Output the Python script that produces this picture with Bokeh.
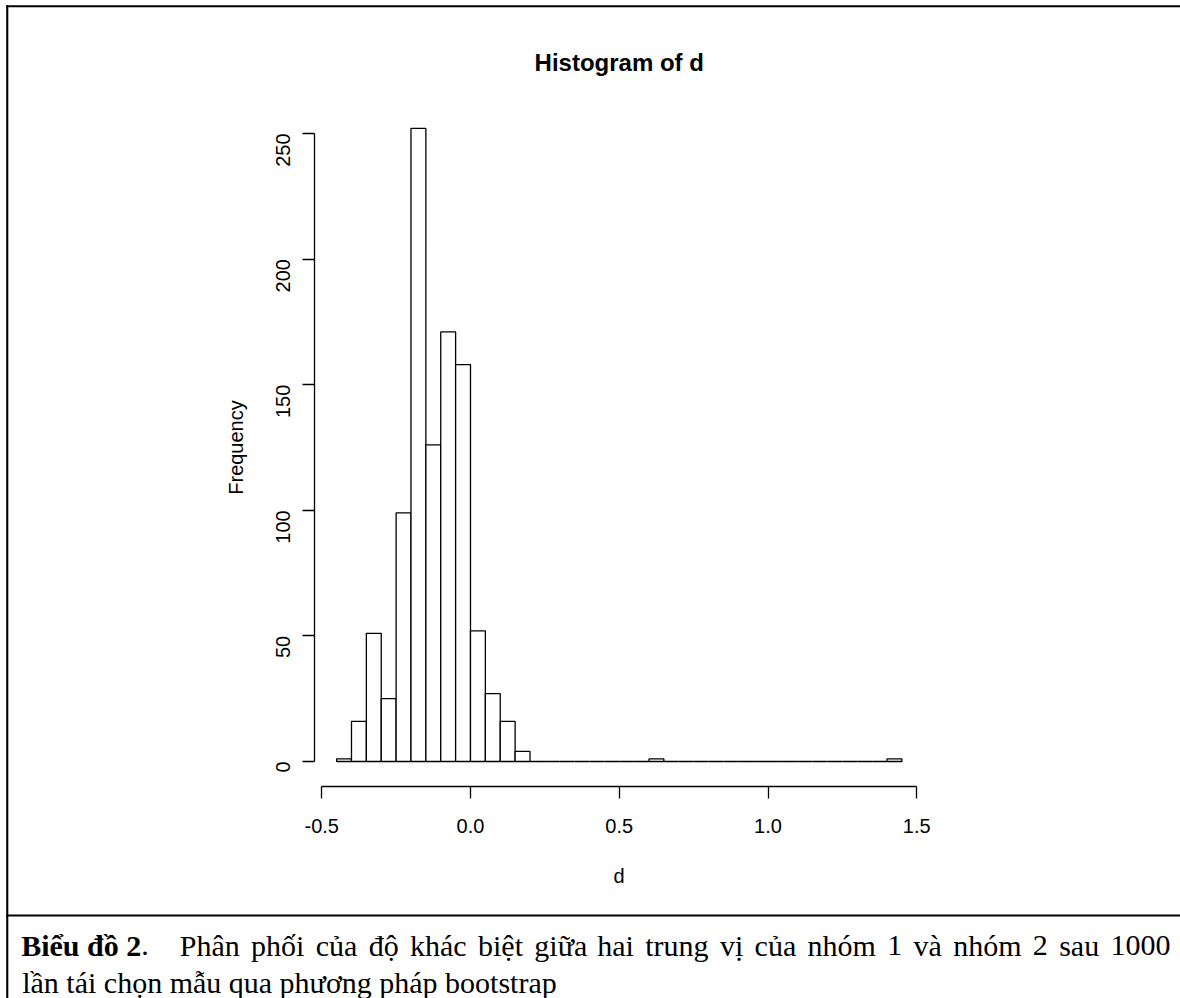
import math
import unicodedata
from bokeh.plotting import figure
from bokeh.models import Range1d, FixedTicker, Label, BoxAnnotation
from bokeh.embed import file_html
from bokeh.resources import INLINE

# ---- data ----
bin_edges = [-0.45, -0.40, -0.35, -0.30, -0.25, -0.20, -0.15, -0.10, -0.05, 0.00,
             0.05, 0.10, 0.15, 0.20, 0.25, 0.30, 0.35, 0.40, 0.45, 0.50,
             0.55, 0.60, 0.65, 0.70, 0.75, 0.80, 0.85, 0.90, 0.95, 1.00,
             1.05, 1.10, 1.15, 1.20, 1.25, 1.30, 1.35, 1.40, 1.45]
counts = [1, 16, 51, 25, 99, 252, 126, 171, 158, 52, 27, 16, 4,
          0, 0, 0, 0, 0, 0, 0, 0,
          1,
          0, 0, 0, 0, 0, 0, 0, 0, 0, 0, 0, 0, 0, 0, 0,
          1]
x_ticks = [-0.5, 0.0, 0.5, 1.0, 1.5]
x_tick_labels = ["-0.5", "0.0", "0.5", "1.0", "1.5"]
y_ticks = [0, 50, 100, 150, 200, 250]
y_tick_labels = ["0", "50", "100", "150", "200", "250"]

title_text = "Histogram of d"
x_label = "d"
y_label = "Frequency"
caption_bold = "Biểu đồ 2"
caption_period = "."
caption_line1 = "Phân phối của độ khác biệt giữa hai trung vị của nhóm 1 và nhóm 2 sau 1000"
caption_line2 = "lần tái chọn mẫu qua phương pháp bootstrap"

# ---- layout (pixels) ----
W, H = 1180, 998
PL, PR, PT, PB = 313.5, 924.0, 102.6, 786.3   # R plot region inside the canvas

# R-style 4% range extension
xspan = bin_edges[-1] - bin_edges[0]
ymax = max(counts)
xlo, xhi = bin_edges[0] - 0.04 * xspan, bin_edges[-1] + 0.04 * xspan
ylo, yhi = -0.04 * ymax, 1.04 * ymax
sx = (xhi - xlo) / (PR - PL)
sy = (yhi - ylo) / (PB - PT)
x_range = Range1d(xlo - PL * sx, xhi + (W - PR) * sx)
y_range = Range1d(ylo - (H - PB) * sy, yhi + PT * sy)

SANS = "Liberation Sans"
SERIF = "Liberation Serif"

p = figure(width=W, height=H, min_border=0,
           min_border_left=0, min_border_right=0, min_border_top=0, min_border_bottom=0,
           x_range=x_range, y_range=y_range,
           output_backend="svg", toolbar_location=None)

p.quad(left=bin_edges[:-1], right=bin_edges[1:], bottom=0, top=counts,
       fill_color="white", line_color="black", line_width=1.3)

p.grid.visible = False
p.outline_line_color = None
p.background_fill_color = "white"
p.border_fill_color = "white"

# x axis (drawn at the bottom edge of R's plot region)
xa = p.xaxis[0]
xa.fixed_location = ylo
xa.ticker = FixedTicker(ticks=x_ticks)
xa.major_label_overrides = {t: l for t, l in zip(x_ticks, x_tick_labels)}
xa.bounds = (x_ticks[0], x_ticks[-1])
xa.minor_tick_line_color = None
xa.major_tick_in = 0
xa.major_tick_out = 12
xa.axis_line_width = 1.3
xa.major_tick_line_width = 1.3
xa.major_label_text_font = SANS
xa.major_label_text_font_size = "20px"
xa.major_label_text_color = "black"
xa.major_label_standoff = 20
xa.axis_label = x_label
xa.axis_label_text_font = SANS
xa.axis_label_text_font_size = "20px"
xa.axis_label_text_font_style = "normal"
xa.axis_label_text_color = "black"
xa.axis_label_standoff = 29

# y axis (drawn at the left edge of R's plot region)
ya = p.yaxis[0]
ya.fixed_location = xlo
ya.ticker = FixedTicker(ticks=y_ticks)
ya.major_label_overrides = {t: l for t, l in zip(y_ticks, y_tick_labels)}
ya.bounds = (y_ticks[0], y_ticks[-1])
ya.minor_tick_line_color = None
ya.major_tick_in = 0
ya.major_tick_out = 12
ya.axis_line_width = 1.3
ya.major_tick_line_width = 1.3
ya.major_label_orientation = math.pi / 2
ya.major_label_text_font = SANS
ya.major_label_text_font_size = "20px"
ya.major_label_text_color = "black"
ya.major_label_standoff = 19
ya.axis_label = y_label
ya.axis_label_text_font = SANS
ya.axis_label_text_font_size = "20px"
ya.axis_label_text_font_style = "normal"
ya.axis_label_text_color = "black"
ya.axis_label_standoff = 20

# title, centred over the plot region
p.add_layout(Label(x=(xlo + xhi) / 2, y=62, x_units="data", y_units="canvas",
                   text=title_text, text_font=SANS, text_font_size="24px",
                   text_font_style="bold", text_color="black",
                   text_align="center", text_baseline="alphabetic"))

# document frame lines: left edge, top edge, separator above the caption
def rule(left, right, top, bottom):
    p.add_layout(BoxAnnotation(left=left, right=right, top=top, bottom=bottom,
                               left_units="canvas", right_units="canvas",
                               top_units="canvas", bottom_units="canvas",
                               fill_color="black", fill_alpha=1.0,
                               line_color=None))

rule(5.7, 7.8, 4.7, H + 20)
rule(5.7, W + 20, 4.7, 6.8)
rule(5.7, W + 20, 913.9, 916.0)

# caption (first line is justified, as in the source document)
CAP_SIZE = 30
CAP_X0, CAP_X_END = 20.7, 1170.0
CAP_Y1, CAP_Y2 = 945, 982
BOLD_W = {"B": 667, "i": 278, "e": 444, "u": 556, " ": 250, "đ": 556, "o": 500, "2": 500}
REG_W = {"a": 444, "b": 500, "c": 444, "d": 500, "e": 444, "g": 500, "h": 500,
         "i": 278, "k": 500, "m": 778, "n": 500, "o": 500, "p": 500, "r": 333,
         "s": 389, "t": 278, "u": 500, "v": 500, "y": 500, "P": 556, "đ": 500,
         ".": 250, " ": 250, "0": 500, "1": 500, "2": 500}


def width(s, table, size):
    tot = 0
    for ch in s:
        base = ch if ch in table else unicodedata.normalize("NFD", ch)[0]
        tot += table.get(base, 500)
    return tot / 1000.0 * size


def cap_label(x, y, text, bold=False):
    p.add_layout(Label(x=x, y=y, x_units="canvas", y_units="canvas",
                       text=text, text_font=SERIF, text_font_size=f"{CAP_SIZE}px",
                       text_font_style="bold" if bold else "normal",
                       text_color="black", text_baseline="alphabetic",
                       text_align="left"))


cap_label(CAP_X0, CAP_Y1, caption_bold, bold=True)
x_period = CAP_X0 + width(caption_bold, BOLD_W, CAP_SIZE)
cap_label(x_period, CAP_Y1, caption_period)

words = caption_line1.split(" ")
word_w = [width(w, REG_W, CAP_SIZE) for w in words]
first_x = x_period + width(caption_period, REG_W, CAP_SIZE) + 31
gap = (CAP_X_END - first_x - sum(word_w)) / (len(words) - 1)
x = first_x
for w, ww in zip(words, word_w):
    cap_label(x, CAP_Y1, w)
    x += ww + gap

cap_label(CAP_X0 + 1, CAP_Y2, caption_line2)

open("out.html", "w").write(file_html(p, INLINE))
